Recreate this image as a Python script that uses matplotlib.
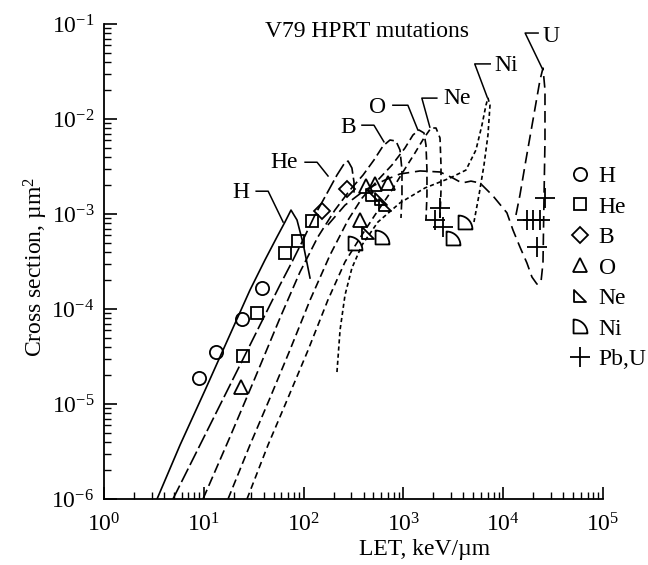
import matplotlib
matplotlib.use("Agg")
import matplotlib.pyplot as plt
from matplotlib.path import Path
from matplotlib.lines import Line2D
import numpy as np

plt.rcParams['font.family'] = 'Liberation Serif'
plt.rcParams['mathtext.fontset'] = 'custom'
plt.rcParams['mathtext.rm'] = 'Liberation Serif'
plt.rcParams['mathtext.it'] = 'Liberation Serif:italic'
plt.rcParams['axes.unicode_minus'] = False

# model curves: LET (keV/um) and cross section (um^2)
h_let = [3.40, 5.78, 10.3, 15.6, 29.0, 41.0, 54.1, 65.1, 74.8, 85.9, 98.6, 116]
h_sig = [1.0e-6, 3.7e-6, 1.4e-5, 3.7e-5, 1.58e-4, 3.28e-4, 5.73e-4, 8.24e-4, 1.10e-3, 8.65e-4, 4.95e-4, 2.12e-4]

he_let = [4.91, 9.16, 16.3, 25.9, 42.0, 58.0, 78.3, 98.6, 130, 172, 216, 254, 279, 305, 320, 320]
he_sig = [1.0e-6, 3.7e-6, 1.24e-5, 3.28e-5, 9.08e-5, 1.79e-4, 3.28e-4, 5.32e-4, 9.76e-4, 1.66e-3,
          2.57e-3, 3.36e-3, 3.61e-3, 3.05e-3, 2.17e-3, 1.58e-3]

b_let = [9.82, 18.3, 32.6, 58.0, 92.0, 139, 206, 292, 394, 507, 625, 734, 843, 925, 968, 968, 946]
b_sig = [1.0e-6, 4.5e-6, 1.88e-5, 8.04e-5, 2.45e-4, 5.73e-4, 1.10e-3, 1.79e-3, 2.57e-3, 3.70e-3,
         5.20e-3, 6.01e-3, 5.86e-3, 4.72e-3, 2.90e-3, 1.58e-3, 9.08e-4]

o_let = [17.5, 29.0, 46.1, 73.0, 116, 184, 279, 385, 556, 769, 1037, 1248, 1433, 1608, 1684, 1723, 1723, 1684]
o_sig = [1.0e-6, 3.7e-6, 1.16e-5, 3.7e-5, 1.24e-4, 3.7e-4, 8.65e-4, 1.47e-3, 2.28e-3, 3.28e-3,
         4.95e-3, 6.79e-3, 7.66e-3, 7.13e-3, 5.32e-3, 2.90e-3, 1.58e-3, 8.65e-4]

ne_let = [27.1, 44.0, 69.8, 111, 175, 260, 367, 519, 734, 991, 1306, 1608, 1892, 2123, 2328, 2382, 2382, 2328]
ne_sig = [1.0e-6, 3.7e-6, 1.16e-5, 3.7e-5, 1.24e-4, 3.13e-4, 5.59e-4, 9.76e-4, 1.66e-3, 2.77e-3,
          4.39e-3, 6.31e-3, 8.04e-3, 8.04e-3, 6.31e-3, 3.28e-3, 1.79e-3, 9.08e-4]

ni_let = [216, 232, 260, 305, 385, 556, 925, 1645, 2930, 4236, 5335, 6131, 6724, 7040, 7379,
          7040, 6424, 5722, 5097]
ni_sig = [2.17e-5, 6.01e-5, 1.40e-4, 2.70e-4, 4.72e-4, 8.24e-4, 1.31e-3, 1.88e-3, 2.39e-3, 2.90e-3,
          4.72e-3, 8.65e-3, 1.40e-2, 1.66e-2, 1.40e-2, 6.79e-3, 3.28e-3, 1.58e-3, 8.24e-4]

u_let = [175, 260, 412, 654, 925, 1467, 2328, 3139, 3865, 4755, 5861, 7907, 10900, 12530, 14720, 17300,
         19430, 21800, 23920, 25060, 25640, 26240, 26240, 25060, 23380, 19890, 16900, 14720, 13430]
u_sig = [7.66e-4, 1.24e-3, 1.79e-3, 2.28e-3, 2.64e-3, 2.84e-3, 2.77e-3, 2.39e-3, 2.12e-3, 2.22e-3, 2.12e-3,
         1.55e-3, 1.03e-3, 6.79e-4, 4.50e-4, 3.05e-4, 2.17e-4, 1.83e-4, 1.92e-4, 3.05e-4, 1.40e-3,
         6.01e-3, 2.02e-2, 3.44e-2, 2.57e-2, 9.76e-3, 3.70e-3, 1.58e-3, 9.76e-4]

# measured points
h_pts_let = [8.95, 13.3, 24.1, 38.3]
h_pts_sig = [1.88e-5, 3.53e-5, 7.85e-5, 1.66e-4]
he_pts_let = [24.7, 34.1, 65.1, 87.9, 121]
he_pts_sig = [3.20e-5, 9.08e-5, 3.88e-4, 5.20e-4, 8.44e-4]
b_pts_let = [153, 272]
b_pts_sig = [1.08e-3, 1.83e-3]
o_pts_let = [23.6, 367, 422, 519, 701]
o_pts_sig = [1.51e-5, 8.65e-4, 1.97e-3, 2.07e-3, 2.12e-3]
ne_pts_let = [442, 484, 597, 654]
ne_pts_sig = [6.31e-4, 1.58e-3, 1.44e-3, 1.24e-3]
ni_pts_let = [327, 611, 3139, 4140]
ni_pts_sig = [4.95e-4, 5.73e-4, 5.59e-4, 8.24e-4]
pbu_pts_let = [2075, 2328, 2495, 17300, 19890, 23380, 26240, 21800]
pbu_pts_sig = [8.65e-4, 1.16e-3, 7.30e-4, 8.65e-4, 8.65e-4, 8.65e-4, 1.47e-3, 4.50e-4]

# custom marker shapes
ne_marker = Path([(-1, 1), (-1, -1), (1, -1), (-1, 1)],
                 [Path.MOVETO, Path.LINETO, Path.LINETO, Path.CLOSEPOLY])
t = np.linspace(np.pi / 2, 0, 25)
arc = np.column_stack([-1 + 2 * np.cos(t), -1 + 2 * np.sin(t)])
ni_marker = Path(np.vstack([[-1, -1], arc, [-1, -1]]), closed=True)

fs = 17

fig = plt.figure(figsize=(6.48, 5.65), dpi=100)
ax = fig.add_axes([0.1605, 0.1168, 0.770, 0.8407])

lw = 1.2
ax.plot(h_let, h_sig, color='k', lw=lw, ls='-')
ax.plot(he_let, he_sig, color='k', lw=lw, ls=(0, (9, 2.4)))
ax.plot(b_let, b_sig, color='k', lw=lw, ls=(0, (6, 2.6)))
ax.plot(o_let, o_sig, color='k', lw=lw, ls=(0, (5, 2.6)))
ax.plot(ne_let, ne_sig, color='k', lw=lw, ls=(0, (4, 2.6)))
ax.plot(ni_let, ni_sig, color='k', lw=lw, ls=(0, (2.5, 1.8)))
ax.plot(u_let, u_sig, color='k', lw=lw, ls=(0, (7, 3.5)))

styles = [
    ('H', h_pts_let, h_pts_sig, 'o', 9.5),
    ('He', he_pts_let, he_pts_sig, 's', 9),
    ('B', b_pts_let, b_pts_sig, 'D', 8.5),
    ('O', o_pts_let, o_pts_sig, '^', 9.5),
    ('Ne', ne_pts_let, ne_pts_sig, ne_marker, 9),
    ('Ni', ni_pts_let, ni_pts_sig, ni_marker, 10),
    ('Pb,U', pbu_pts_let, pbu_pts_sig, '+', 14),
]
handles = []
for name, xs, ys, mk, ms in styles:
    ax.plot(xs, ys, ls='none', marker=mk, ms=ms, mfc='none', mec='k', mew=1.3)
    handles.append(Line2D([], [], ls='none', marker=mk, ms=ms, mfc='none', mec='k', mew=1.3, label=name))

ax.legend(handles=handles, loc='upper left', bbox_to_anchor=(0.911, 0.722), frameon=False,
          fontsize=fs, handlelength=1.0, handletextpad=0.3, labelspacing=0.38, borderaxespad=0)

ax.set_xscale('log')
ax.set_yscale('log')
ax.set_xlim(1, 1e5)
ax.set_ylim(1e-6, 1e-1)
ax.spines['top'].set_visible(False)
ax.spines['right'].set_visible(False)
for s in ('left', 'bottom'):
    ax.spines[s].set_linewidth(1.3)
ax.tick_params(which='major', direction='in', length=9, width=1.2, labelsize=fs, pad=7,
               top=False, right=False)
ax.tick_params(axis='x', which='major', pad=10)
ax.tick_params(which='minor', direction='in', length=5, width=1.0, top=False, right=False)

ax.set_xlabel('LET, keV/\u00b5m', fontsize=fs)
ax.xaxis.set_label_coords(0.643, -0.085)
ax.set_ylabel('Cross section, \u00b5m$^2$', fontsize=fs)
ax.yaxis.set_label_coords(-0.108, 0.488)

ax.text(0.527, 0.985, 'V79 HPRT mutations', transform=ax.transAxes, fontsize=fs,
        ha='center', va='center')

# curve labels with leader lines (axes fractions)
labels = [
    ('H', (0.275, 0.646), [0.305, 0.329, 0.359], [0.648, 0.648, 0.583]),
    ('He', (0.361, 0.709), [0.403, 0.427, 0.449], [0.709, 0.709, 0.680]),
    ('B', (0.489, 0.783), [0.517, 0.541, 0.561], [0.787, 0.787, 0.752]),
    ('O', (0.549, 0.825), [0.579, 0.609, 0.629], [0.829, 0.829, 0.777]),
    ('Ne', (0.707, 0.844), [0.667, 0.637, 0.653], [0.844, 0.844, 0.783]),
    ('Ni', (0.806, 0.912), [0.774, 0.743, 0.768], [0.916, 0.916, 0.846]),
    ('U', (0.896, 0.973), [0.870, 0.844, 0.878], [0.981, 0.981, 0.907]),
]
for txt, pos, lx, ly in labels:
    ax.text(pos[0], pos[1], txt, transform=ax.transAxes, fontsize=fs, ha='center', va='center')
    ax.plot(lx, ly, color='k', lw=1.1, transform=ax.transAxes, clip_on=False)

fig.savefig('out.png', dpi=100)
